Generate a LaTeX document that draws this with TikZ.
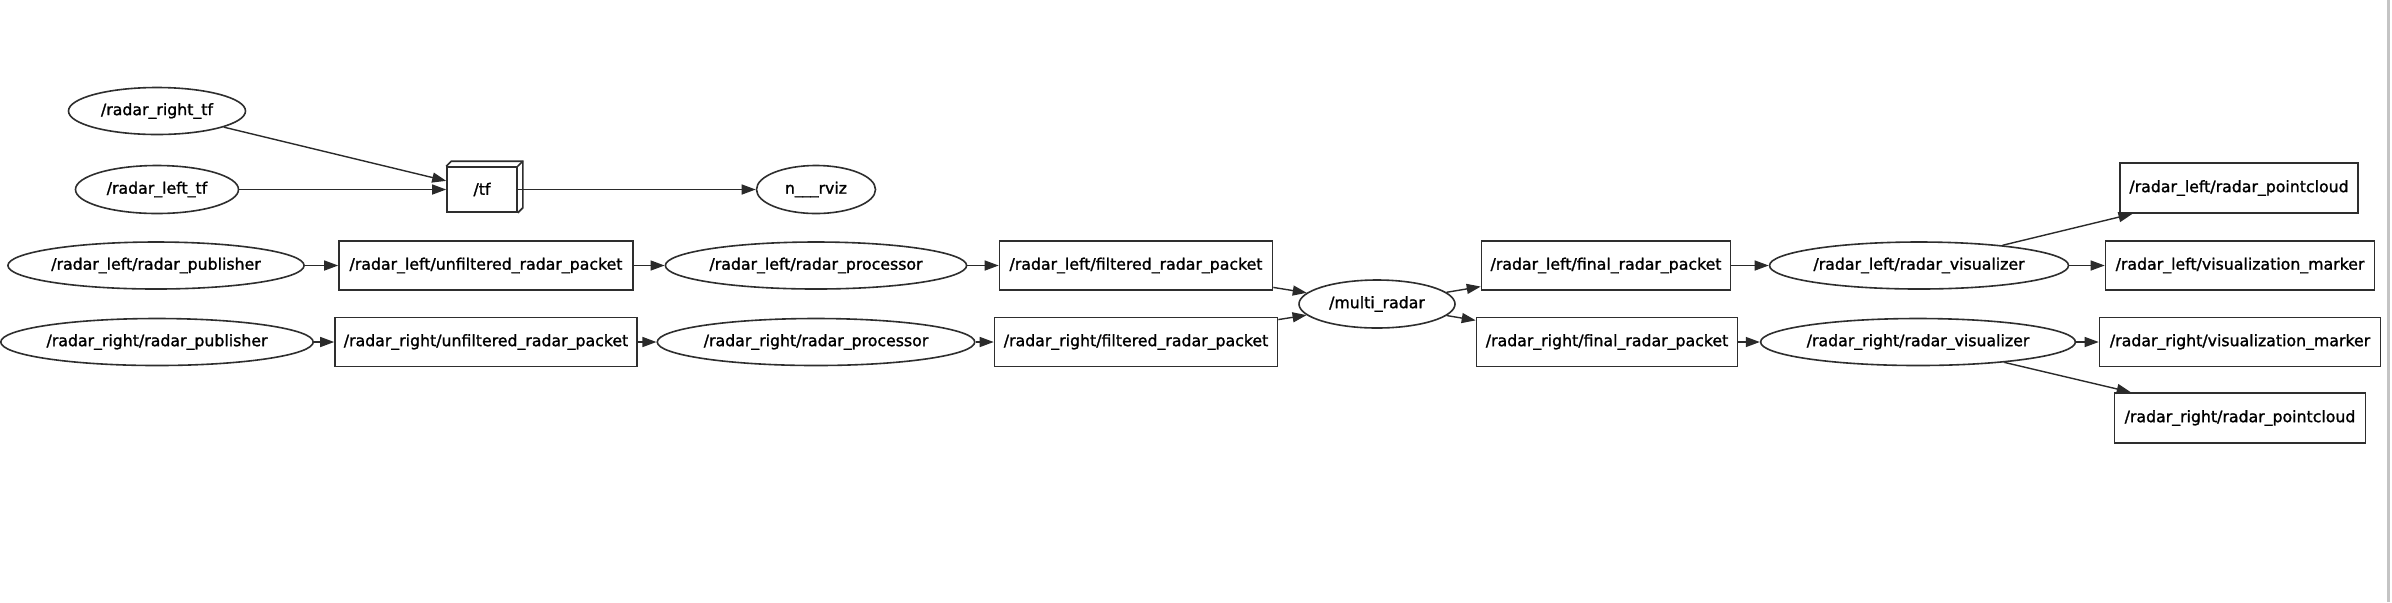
\documentclass[tikz,border=0pt]{standalone}
\usepackage{fontspec}
\setmainfont{DejaVu Sans}[FakeBold=1.4,AutoFakeBold=1.4]
\usetikzlibrary{arrows.meta,shapes.geometric}
\definecolor{bordercol}{HTML}{2E2E2E}
\definecolor{edgecol}{HTML}{2A2A2A}
\definecolor{framecol}{HTML}{C4C4C4}
\begin{document}
\begin{tikzpicture}[x=0.5pt,y=-0.5pt,
  font=\fontsize{7.875}{9}\selectfont\bfseries,
  topic/.style={rectangle,draw=bordercol,line width=0.8pt,inner sep=0pt,minimum height=24.5pt},
  rosnode/.style={ellipse,draw=bordercol,line width=0.8pt,inner sep=0pt,minimum height=23.5pt},
  conn/.style={draw=edgecol,line width=0.7pt,-{Triangle[length=7pt,width=5pt]}}]
\useasboundingbox (0,0) rectangle (2392,602);
\fill[white] (0,0) rectangle (2392,602);
% window edge
\draw[framecol,line width=1.5pt] (2388,0) -- (2388,602);

% tf group
\node[rosnode,minimum width=88.5pt] (rtf) at (157,111) {/radar\_right\_tf};
\node[rosnode,minimum width=81.5pt,minimum height=24pt] (ltf) at (157,189.5) {/radar\_left\_tf};
\node[topic,minimum width=35pt,minimum height=22.5pt] (tf) at (482,189.5) {/tf};
\draw[bordercol,line width=0.8pt] (tf.north west) -- ++(2.5pt,2.5pt) -- ([shift={(2.5pt,2.5pt)}]tf.north east) -- ([shift={(2.5pt,2.5pt)}]tf.south east) -- (tf.south east);
\draw[bordercol,line width=0.8pt] (tf.north east) -- ++(2.5pt,2.5pt);
\node[rosnode,minimum width=59.5pt,minimum height=24pt] (rviz) at (816,189.5) {n\_\_\_rviz};

% left row
\node[rosnode,minimum width=148pt] (lpub) at (156,265.5) {/radar\_left/radar\_publisher};
\node[topic,minimum width=147pt] (lunf) at (486,265.5) {/radar\_left/unfiltered\_radar\_packet};
\node[rosnode,minimum width=150pt] (lproc) at (816,265.5) {/radar\_left/radar\_processor};
\node[topic,minimum width=136.5pt] (lfilt) at (1136,265.5) {/radar\_left/filtered\_radar\_packet};

% right row
\node[rosnode,minimum width=156pt] (rpub) at (157,342) {/radar\_right/radar\_publisher};
\node[topic,minimum width=151pt] (runf) at (486,342) {/radar\_right/unfiltered\_radar\_packet};
\node[rosnode,minimum width=158pt] (rproc) at (816,342) {/radar\_right/radar\_processor};
\node[topic,minimum width=141.5pt] (rfilt) at (1136,342) {/radar\_right/filtered\_radar\_packet};

% merge
\node[rosnode,minimum width=78pt,minimum height=24pt] (multi) at (1377,304) {/multi\_radar};
\node[topic,minimum width=124.5pt] (lfin) at (1606,265.5) {/radar\_left/final\_radar\_packet};
\node[topic,minimum width=130.5pt] (rfin) at (1607,342) {/radar\_right/final\_radar\_packet};
\node[rosnode,minimum width=149.5pt] (lvis) at (1919,265.5) {/radar\_left/radar\_visualizer};
\node[rosnode,minimum width=156.5pt] (rvis) at (1918,342) {/radar\_right/radar\_visualizer};

% outputs
\node[topic,minimum width=119pt,minimum height=25pt] (lpc) at (2239,188) {/radar\_left/radar\_pointcloud};
\node[topic,minimum width=134.5pt] (lvm) at (2240,265.5) {/radar\_left/visualization\_marker};
\node[topic,minimum width=140.5pt] (rvm) at (2240,342) {/radar\_right/visualization\_marker};
\node[topic,minimum width=125.5pt,minimum height=25pt] (rpc) at (2240,418) {/radar\_right/radar\_pointcloud};

% connectors
\draw[conn] (rtf) -- (tf);
\draw[conn] (ltf) -- (tf);
\draw[conn] (tf) -- (rviz);
\draw[conn] (lpub) -- (lunf);
\draw[conn] (lunf) -- (lproc);
\draw[conn] (lproc) -- (lfilt);
\draw[conn] (rpub) -- (runf);
\draw[conn] (runf) -- (rproc);
\draw[conn] (rproc) -- (rfilt);
\draw[conn] (lfilt) -- (multi);
\draw[conn] (rfilt) -- (multi);
\draw[conn] (multi) -- (lfin);
\draw[conn] (multi) -- (rfin);
\draw[conn] (lfin) -- (lvis);
\draw[conn] (rfin) -- (rvis);
\draw[conn] (lvis) -- (lpc);
\draw[conn] (lvis) -- (lvm);
\draw[conn] (rvis) -- (rvm);
\draw[conn] (rvis) -- (rpc);
\end{tikzpicture}
\end{document}
